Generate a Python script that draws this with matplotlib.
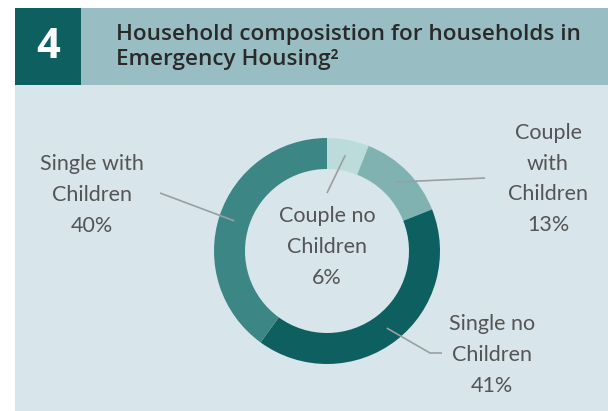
import numpy as np
import matplotlib
matplotlib.use("Agg")
import matplotlib.pyplot as plt
from matplotlib.patches import Rectangle

# data
labels = ["Couple no\nChildren", "Couple\nwith\nChildren", "Single no\nChildren", "Single with\nChildren"]
shares = [6, 13, 41, 40]
colors = ["#bcdcdb", "#80b2b2", "#0e5f60", "#3c8786"]

W, H = 608, 411
fig = plt.figure(figsize=(W / 100, H / 100), dpi=100)
fig.patch.set_facecolor("white")
ax = fig.add_axes([0, 0, 1, 1])
ax.set_xlim(0, W)
ax.set_ylim(0, H)
ax.axis("off")


def y(v):
    # image pixel row -> axis y
    return H - v


# panel backgrounds
ax.add_patch(Rectangle((15, y(411)), W - 15, 411 - 85, color="#d8e5ea", lw=0))
ax.add_patch(Rectangle((15, y(85)), W - 15, 85 - 8, color="#98bdc2", lw=0))
ax.add_patch(Rectangle((15, y(85)), 66, 85 - 8, color="#0e5f60", lw=0))

ax.text(48, y(48), "4", color="white", fontsize=30, fontweight="bold",
        family="Open Sans", ha="center", va="center")
ax.text(116, y(47), "Household composistion for households in\nEmergency Housing²",
        color="#2a2a2a", fontsize=16.2, fontweight="semibold", family="Open Sans",
        ha="left", va="center", linespacing=1.25)

# donut
cx, cy, r, ring = 327, y(251), 113, 31
wedges, _ = ax.pie(shares, colors=colors, startangle=90, counterclock=False,
                   center=(cx, cy), radius=r, frame=True,
                   wedgeprops=dict(width=ring, linewidth=0))
ax.set_xlim(0, W)
ax.set_ylim(0, H)
ax.set_aspect("equal")
ax.axis("off")

# leader lines: start at middle of each wedge on the ring
line_ends = [
    [(327, 193)],
    [(485, 178)],
    [(430, 353), (442, 353)],
    [(160, 193)],
]
text_pos = [(327, 247), (548, 179), (492, 355), (92, 195)]
rm = r - ring / 2
for w, ends, lab, share, tp in zip(wedges, line_ends, labels, shares, text_pos):
    ang = np.deg2rad((w.theta1 + w.theta2) / 2)
    xs = [cx + rm * np.cos(ang)] + [e[0] for e in ends]
    ys = [cy + rm * np.sin(ang)] + [y(e[1]) for e in ends]
    ax.plot(xs, ys, color="#9a9fa3", lw=1.2, solid_capstyle="butt")
    ax.text(tp[0], y(tp[1]), f"{lab}\n{share}%", color="#555555", fontsize=15.5,
            family="Lato", ha="center", va="center", linespacing=1.67)

fig.savefig("out.png", dpi=100, facecolor=fig.get_facecolor())
